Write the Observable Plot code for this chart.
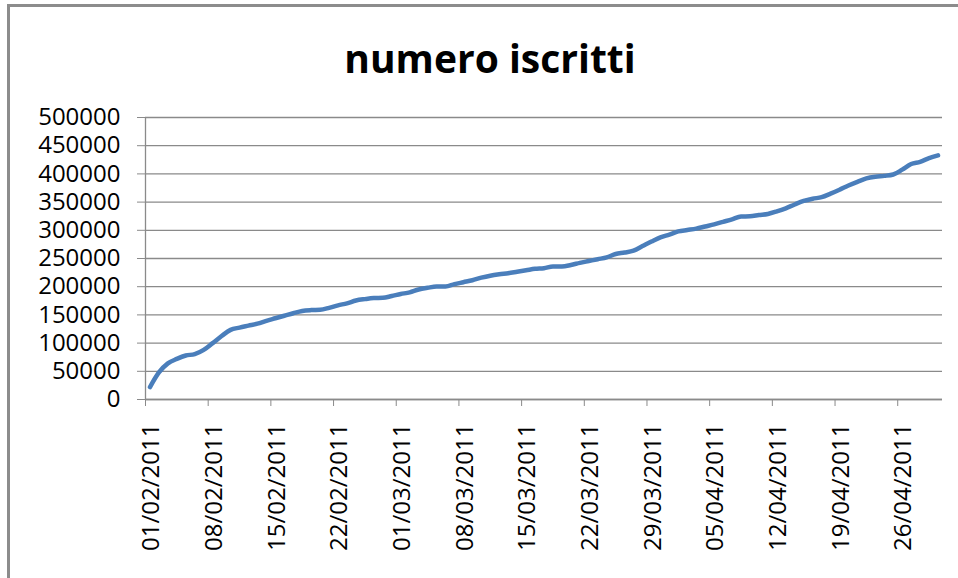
<!DOCTYPE html>
<html>
<head>
<meta charset="utf-8">
<script src="https://cdn.jsdelivr.net/npm/d3@7"></script>
<script src="https://cdn.jsdelivr.net/npm/@observablehq/plot@0.6"></script>
<style>
  html, body { margin: 0; padding: 0; background: #fff; }
  #wrap { position: relative; width: 958px; height: 578px; overflow: hidden; background: #fff; }
  #title { height: 100px; box-sizing: border-box; padding-top: 38px; line-height: 40px; text-align: center;
           font-family: "Open Sans", sans-serif; font-weight: 700; font-size: 39px; color: #000; padding-left: 22px; }
  #frame { position: absolute; left: 7px; top: 4px; width: 1200px; height: 1200px; border: 3px solid #8c8c8c;
           box-sizing: border-box; pointer-events: none; z-index: 3; }
</style>
</head>
<body>
<div id="wrap">
  <div id="title">numero iscritti</div>
  <div id="chart"></div>
  <div id="frame"></div>
</div>
<script>
// Daily number of subscribers, 01/02/2011 .. 30/04/2011
const startDay = "2011-02-01";
const endDay = "2011-05-01";
const values = [
  22000, 48000, 64000, 72000, 78000, 80500, 88000, 100000, 112500, 123500,
  127500, 131000, 134500, 139500, 144000, 148500, 153000, 157000, 158500, 159000,
  162500, 167000, 170500, 175500, 178000, 179800, 180200, 183500, 187000, 190000,
  195000, 198000, 200300, 200300, 204500, 208000, 211500, 216000, 219500, 222000,
  224000, 226500, 229000, 231700, 232800, 236000, 235800, 238500, 242200, 245500,
  248800, 252000, 258000, 260500, 264000, 272000, 280000, 287500, 292500, 298000,
  300500, 303000, 306800, 310500, 315000, 319500, 324500, 324800, 327000, 329000,
  333500, 339000, 345800, 352000, 356000, 358700, 365000, 372000, 379500, 386000,
  392000, 395000, 396500, 398900, 407500, 417500, 421500, 428000, 432800
];
const xTickLabels = [
  "01/02/2011", "08/02/2011", "15/02/2011", "22/02/2011", "01/03/2011", "08/03/2011",
  "15/03/2011", "22/03/2011", "29/03/2011", "05/04/2011", "12/04/2011", "19/04/2011", "26/04/2011"
];
const yTicks = [0, 50000, 100000, 150000, 200000, 250000, 300000, 350000, 400000, 450000, 500000];

const parseDay = d3.utcParse("%Y-%m-%d");
const parseLabel = d3.utcParse("%d/%m/%Y");
const fmtLabel = d3.utcFormat("%d/%m/%Y");
const t0 = parseDay(startDay), t1 = parseDay(endDay);
const days = d3.utcDay.range(t0, t1);
// each day is a category; the point sits in the middle of its day
const data = values.map((v, i) => ({date: d3.utcHour.offset(days[i], 12), value: v}));
const xTicks = xTickLabels.map(parseLabel);

const chart = Plot.plot({
  width: 958,
  height: 478,
  marginTop: 17,
  marginBottom: 179,
  marginLeft: 145,
  marginRight: 16,
  style: {fontFamily: "Open Sans, sans-serif", fontSize: "24px", color: "#000", background: "transparent"},
  x: {type: "utc", domain: [t0, t1]},
  y: {domain: [0, 500000]},
  marks: [
    Plot.gridY(yTicks, {stroke: "#8a8a8a", strokeOpacity: 1, strokeWidth: 1.3}),
    Plot.axisY(yTicks, {tickSize: 8, tickPadding: 17, tickFormat: d => String(d), stroke: "#8a8a8a", fill: "#000", label: null, fontSize: 24}),
    // tick marks at category boundaries
    Plot.axisX(xTicks, {tickSize: 7, tickFormat: () => "", stroke: "#8a8a8a", label: null}),
    // labels centred on the category
    Plot.axisX(xTicks, {tickSize: 0, tickPadding: 24, tickRotate: -90, tickFormat: fmtLabel, fill: "#000", label: null, fontSize: 24, dx: 6}),
    Plot.ruleY([0], {stroke: "#8a8a8a", strokeWidth: 1.3}),
    Plot.ruleX([t0], {stroke: "#8a8a8a", strokeWidth: 1.3}),
    Plot.line(data, {x: "date", y: "value", stroke: "#4a7ebb", strokeWidth: 4.5, curve: "monotone-x"})
  ]
});
document.getElementById("chart").appendChild(chart);
</script>
</body>
</html>
